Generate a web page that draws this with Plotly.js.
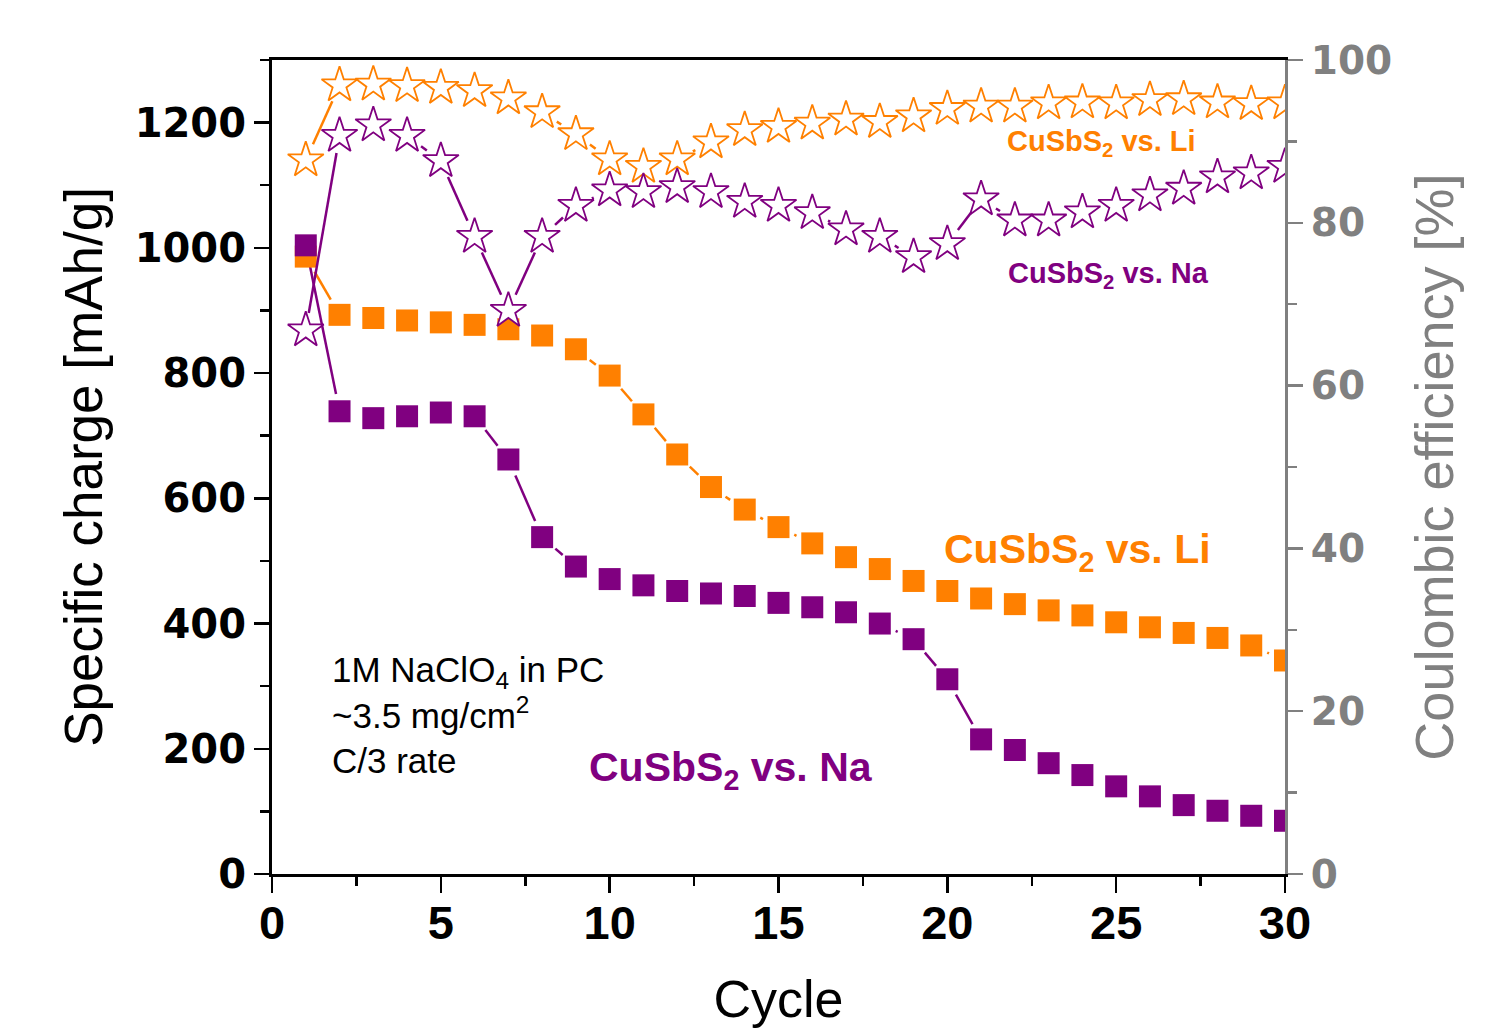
<!DOCTYPE html>
<html>
<head>
<meta charset="utf-8">
<script src="https://cdn.plot.ly/plotly-3.0.1.min.js"></script>
<style>html,body{margin:0;padding:0;background:#fff;}#chart{width:1494px;height:1028px;}</style>
</head>
<body>
<div id="chart"></div>
<script>
// ---- data ----
const cycles = [1,2,3,4,5,6,7,8,9,10,11,12,13,14,15,16,17,18,19,20,21,22,23,24,25,26,27,28,29,30];
const liCharge = [986,893,888,884,881,877,870,860,838,796,734,670,618,582,554,528,506,487,468,452,440,431,421,413,402,394,385,377,365,341];
const naCharge = [1004,739,728,731,737,731,662,538,491,471,461,452,448,444,433,426,418,400,375,311,215,198,177,158,140,124,110,101,93,85];
const liCE = [87.7,96.9,97.0,96.8,96.6,96.2,95.3,93.6,90.9,87.8,86.9,87.8,89.9,91.4,91.8,92.2,92.7,92.4,93.1,94.0,94.3,94.3,94.7,94.8,94.7,95.1,95.2,94.8,94.6,94.7];
const naCE = [66.8,90.7,92.0,90.7,87.6,78.3,69.2,78.3,82.1,84.0,83.8,84.4,83.8,82.6,82.1,81.2,79.2,78.3,75.8,77.4,82.9,80.3,80.3,81.3,82.1,83.4,84.2,85.6,86.1,86.9];
const xTicks = [0,5,10,15,20,25,30];
const yTicks = [0,200,400,600,800,1000,1200];
const y2Ticks = [0,20,40,60,80,100];

const ORANGE = '#FF8000', PURPLE = '#800080', GRAY = '#808080';

// ---- layout geometry ----
const W = 1494, H = 1028;
const M = {l:272, r:209, t:60, b:154};
const xRange = [0,30], yRange = [0,1300], y2Range = [0,100];
const pw = W - M.l - M.r, ph = H - M.t - M.b;
const sx = pw/(xRange[1]-xRange[0]);
const sy = ph/(yRange[1]-yRange[0]);
const sy2 = ph/(y2Range[1]-y2Range[0]);

// connecting segments with a gap around each symbol (Origin style)
function gapped(xs, ys, scaleY, gap){
  const gx=[], gy=[];
  for(let i=0;i<xs.length-1;i++){
    const dxp=(xs[i+1]-xs[i])*sx, dyp=(ys[i+1]-ys[i])*scaleY;
    const L=Math.hypot(dxp,dyp);
    if(L<=2*gap+1.5) continue;
    const f=gap/L;
    gx.push(xs[i]+(xs[i+1]-xs[i])*f, xs[i+1]-(xs[i+1]-xs[i])*f, null);
    gy.push(ys[i]+(ys[i+1]-ys[i])*f, ys[i+1]-(ys[i+1]-ys[i])*f, null);
  }
  return {x:gx, y:gy};
}

const GAP = 17.5;
const liL = gapped(cycles, liCharge, sy, GAP);
const naL = gapped(cycles, naCharge, sy, GAP);
const liCEL = gapped(cycles, liCE, sy2, GAP);
const naCEL = gapped(cycles, naCE, sy2, GAP);

const traces = [
  {x:liL.x, y:liL.y, mode:'lines', line:{color:ORANGE,width:2.5}, yaxis:'y', hoverinfo:'skip'},
  {x:naL.x, y:naL.y, mode:'lines', line:{color:PURPLE,width:2.5}, yaxis:'y', hoverinfo:'skip'},
  {x:cycles, y:liCharge, mode:'markers', name:'Li charge', marker:{symbol:'square', size:22, color:ORANGE}, yaxis:'y'},
  {x:cycles, y:naCharge, mode:'markers', name:'Na charge', marker:{symbol:'square', size:22, color:PURPLE}, yaxis:'y'},
  {x:liCEL.x, y:liCEL.y, mode:'lines', line:{color:ORANGE,width:2.5}, yaxis:'y2', hoverinfo:'skip'},
  {x:naCEL.x, y:naCEL.y, mode:'lines', line:{color:PURPLE,width:2.5}, yaxis:'y2', hoverinfo:'skip'},
  {x:cycles, y:liCE, mode:'markers', name:'Li CE', marker:{symbol:'star', size:27, color:'#ffffff', line:{color:ORANGE,width:1.8}}, yaxis:'y2'},
  {x:cycles, y:naCE, mode:'markers', name:'Na CE', marker:{symbol:'star', size:27, color:'#ffffff', line:{color:PURPLE,width:1.8}}, yaxis:'y2'}
];

const layout = {
  width:W, height:H,
  margin:M,
  paper_bgcolor:'#ffffff', plot_bgcolor:'#ffffff',
  showlegend:false,
  font:{family:'Liberation Sans, Arial, sans-serif', color:'#000'},
  xaxis:{
    range:xRange, tickmode:'array', tickvals:xTicks, ticktext:xTicks.map(String),
    showgrid:false, zeroline:false,
    showline:true, linecolor:'#000', linewidth:3, mirror:true,
    ticks:'outside', ticklen:16, tickwidth:2.5, tickcolor:'#000',
    minor:{dtick:2.5, ticks:'outside', ticklen:9, tickwidth:2.5, tickcolor:'#000'},
    tickfont:{family:'Liberation Sans, Arial, sans-serif', size:47, color:'#000', weight:'bold'},
    ticklabelstandoff:-10,
    title:{text:'Cycle', font:{family:'Liberation Sans, Arial, sans-serif', size:52, color:'#000'}, standoff:72}
  },
  yaxis:{
    range:yRange, tickmode:'array', tickvals:yTicks, ticktext:yTicks.map(String),
    showgrid:false, zeroline:false,
    showline:true, linecolor:'#000', linewidth:3,
    ticks:'outside', ticklen:15, tickwidth:2.5, tickcolor:'#000',
    minor:{dtick:100, ticks:'outside', ticklen:9, tickwidth:2.5, tickcolor:'#000'},
    tickfont:{family:'DejaVu Sans, sans-serif', size:40, color:'#000', weight:'bold'},
    title:{text:'Specific charge [mAh/g]', font:{family:'Liberation Sans, Arial, sans-serif', size:53, color:'#000'}, standoff:16}
  },
  yaxis2:{
    range:y2Range, overlaying:'y', side:'right', anchor:'x',
    tickmode:'array', tickvals:y2Ticks, ticktext:y2Ticks.map(String),
    showgrid:false, zeroline:false,
    showline:true, linecolor:GRAY, linewidth:3,
    ticks:'outside', ticklen:15, tickwidth:2.5, tickcolor:GRAY,
    minor:{dtick:10, ticks:'outside', ticklen:9, tickwidth:2.5, tickcolor:GRAY},
    tickfont:{family:'DejaVu Sans, sans-serif', size:39, color:GRAY, weight:'bold'},
    title:{text:'Coulombic efficiency [%]', font:{family:'Liberation Sans, Arial, sans-serif', size:54, color:GRAY}, standoff:24}
  },
  annotations:[
    {xref:'x', yref:'y', x:1.72, y:254, xanchor:'left', yanchor:'middle', align:'left', showarrow:false,
     text:'1M NaClO<sub>4</sub> in PC<br>~3.5 mg/cm<sup>2</sup><br>C/3 rate',
     font:{family:'Liberation Sans, Arial, sans-serif', size:35, color:'#000'}},
    {xref:'x', yref:'y', x:24.58, y:1168, xanchor:'center', yanchor:'middle', showarrow:false,
     text:'CuSbS<sub>2</sub> vs. Li', font:{family:'Liberation Sans, Arial, sans-serif', size:29, color:ORANGE, weight:'bold'}},
    {xref:'x', yref:'y', x:24.76, y:956, xanchor:'center', yanchor:'middle', showarrow:false,
     text:'CuSbS<sub>2</sub> vs. Na', font:{family:'Liberation Sans, Arial, sans-serif', size:29, color:PURPLE, weight:'bold'}},
    {xref:'x', yref:'y', x:23.84, y:514, xanchor:'center', yanchor:'middle', showarrow:false,
     text:'CuSbS<sub>2</sub> vs. Li', font:{family:'Liberation Sans, Arial, sans-serif', size:41, color:ORANGE, weight:'bold'}},
    {xref:'x', yref:'y', x:13.6, y:166, xanchor:'center', yanchor:'middle', showarrow:false,
     text:'CuSbS<sub>2</sub> vs. Na', font:{family:'Liberation Sans, Arial, sans-serif', size:41, color:PURPLE, weight:'bold'}}
  ]
};

Plotly.newPlot('chart', traces, layout, {displayModeBar:false, staticPlot:true});
</script>
</body>
</html>
